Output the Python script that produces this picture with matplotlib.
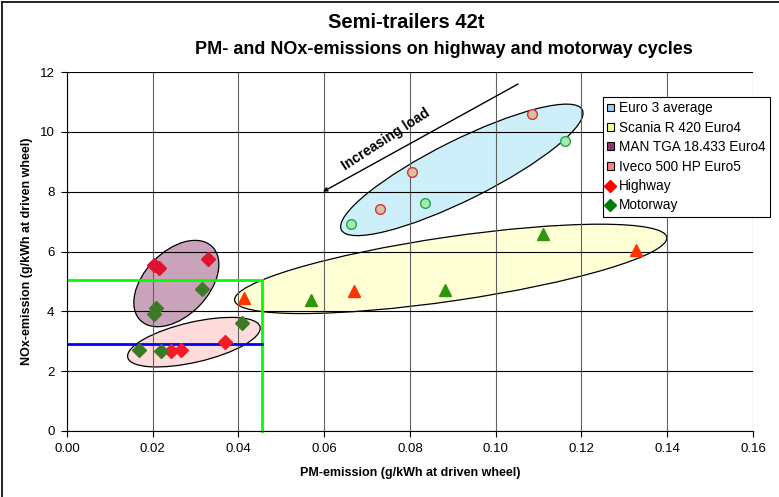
import matplotlib
matplotlib.use("Agg")
import matplotlib.pyplot as plt
from matplotlib.patches import Ellipse, Patch
from matplotlib.lines import Line2D
from matplotlib.transforms import Affine2D

plt.rcParams['font.family'] = ['Liberation Sans', 'DejaVu Sans']

# PM (g/kWh) and NOx (g/kWh) per vehicle and cycle
euro3_hw_pm = [0.0729, 0.0804, 0.1085]
euro3_hw_nox = [7.43, 8.66, 10.59]
euro3_mw_pm = [0.0662, 0.0834, 0.1162]
euro3_mw_nox = [6.92, 7.63, 9.70]

scania_hw_pm = [0.0412, 0.0670, 0.1327]
scania_hw_nox = [4.45, 4.68, 6.06]
scania_mw_pm = [0.0568, 0.0881, 0.1110]
scania_mw_nox = [4.39, 4.72, 6.57]

man_hw_pm = [0.0203, 0.0215, 0.0330]
man_hw_nox = [5.56, 5.46, 5.76]
man_mw_pm = [0.0315, 0.0207, 0.0203]
man_mw_nox = [4.74, 4.10, 3.90]

iveco_hw_pm = [0.0242, 0.0267, 0.0369]
iveco_hw_nox = [2.68, 2.72, 2.98]
iveco_mw_pm = [0.0167, 0.0219, 0.0409]
iveco_mw_nox = [2.72, 2.68, 3.61]

# limit lines
limit_pm = 0.0455
limit_nox_euro4 = 5.05
limit_nox_euro5 = 2.9

group_labels = ["Euro 3 average", "Scania R 420 Euro4",
                "MAN TGA 18.433 Euro4", "Iveco 500 HP Euro5"]
group_colors = ["#99CCFF", "#FFFF99", "#993366", "#FF8080"]
ellipse_fill = ["#CDEFFA", "#FFFFD6", "#C9A3BA", "#FFDCDC"]
# centre (pm, nox), semi axes in NOx units, angle in screen degrees
ellipse_center = [(0.0921, 8.73), (0.0895, 5.42), (0.0255, 4.93), (0.0296, 2.97)]
ellipse_axes = [(4.50, 1.00), (7.30, 1.07), (1.72, 1.07), (2.27, 0.67)]
ellipse_angle = [26.5, 8.3, 46, 13]

XMAX, YMAX = 0.16, 12

fig = plt.figure(figsize=(7.79, 4.97), dpi=100)
ax = fig.add_axes([0.086, 0.1328, 0.8806, 0.7222])
ax.set_xlim(0, XMAX)
ax.set_ylim(0, YMAX)

# scale factor so that ellipses are drawn in screen-isotropic units
bb = ax.get_position()
k = (bb.width * 779 / XMAX) / (bb.height * 497 / YMAX)
tr = Affine2D().scale(1 / k, 1) + ax.transData
for c, (a, b), ang, fc in zip(ellipse_center, ellipse_axes, ellipse_angle, ellipse_fill):
    e = Ellipse((c[0] * k, c[1]), 2 * a, 2 * b, angle=ang, transform=tr,
                facecolor=fc, edgecolor="black", lw=0.9, zorder=0.3)
    ax.add_patch(e)

ax.set_axisbelow(True)
ax.grid(axis="y", color="black", lw=0.8)
ax.grid(axis="x", color="#606060", lw=0.8)
ax.set_xticks([i * 0.02 for i in range(9)])
ax.set_yticks(range(0, 13, 2))
ax.xaxis.set_major_formatter(matplotlib.ticker.FormatStrFormatter("%.2f"))
ax.tick_params(direction="out", length=4, labelsize=9.5, pad=5)
for s in ["top", "right"]:
    ax.spines[s].set_visible(False)

# limit lines
ax.plot([0, limit_pm], [limit_nox_euro4] * 2, color="#00FF00", lw=2, zorder=2)
ax.plot([limit_pm] * 2, [0, limit_nox_euro4], color="#00FF00", lw=2, zorder=2,
        clip_on=False)
ax.plot([0, limit_pm], [limit_nox_euro5] * 2, color="#0000FF", lw=2, zorder=2)

# data points
ax.plot(euro3_hw_pm, euro3_hw_nox, "o", ms=7, mfc="#D8C0A0", mec="#E03030",
        mew=1, zorder=3)
ax.plot(euro3_mw_pm, euro3_mw_nox, "o", ms=7, mfc="#A8E8B8", mec="#20A840",
        mew=1, zorder=3)
ax.plot(scania_hw_pm, scania_hw_nox, "^", ms=9, color="#FF3300", zorder=3)
ax.plot(scania_mw_pm, scania_mw_nox, "^", ms=9, color="#2E960C", zorder=3)
ax.plot(man_hw_pm, man_hw_nox, "D", ms=7, color="#DC1430", zorder=3)
ax.plot(man_mw_pm, man_mw_nox, "D", ms=7, color="#3C7A28", zorder=3)
ax.plot(iveco_hw_pm, iveco_hw_nox, "D", ms=7, color="#F51A25", zorder=3)
ax.plot(iveco_mw_pm, iveco_mw_nox, "D", ms=7, color="#3C7A28", zorder=3)

# increasing load arrow
ax.annotate("", xy=(0.0597, 8.0), xytext=(0.1052, 11.6),
            arrowprops=dict(arrowstyle="-|>", color="black", lw=1,
                            mutation_scale=6, shrinkA=0, shrinkB=0), zorder=4)
ax.text(0.0743, 9.75, "Increasing load", rotation=33, fontsize=10,
        fontweight="bold", ha="center", va="center", zorder=4)

ax.set_xlabel("PM-emission (g/kWh at driven wheel)", fontsize=9,
              fontweight="bold", labelpad=8)
ax.set_ylabel("NOx-emission (g/kWh at driven wheel)", fontsize=9,
              fontweight="bold", labelpad=5)

fig.text(406 / 779, 1 - 22 / 497, "Semi-trailers 42t", fontsize=14.5,
         fontweight="bold", ha="center", va="center")
fig.text(444 / 779, 1 - 49 / 497,
         "PM- and NOx-emissions on highway and motorway cycles", fontsize=13,
         fontweight="bold", ha="center", va="center")

handles = [Patch(facecolor=c, edgecolor="black", lw=0.8) for c in group_colors]
handles += [Line2D([], [], marker="D", ls="", ms=6, color="#FF0000"),
            Line2D([], [], marker="D", ls="", ms=6, color="#008000")]
labels = group_labels + ["Highway", "Motorway"]
leg = ax.legend(handles, labels, loc="upper left", bbox_to_anchor=(0.781, 0.93),
                fontsize=9.8, frameon=True, fancybox=False, edgecolor="black",
                framealpha=1, handlelength=0.5, handleheight=0.5,
                handletextpad=0.4, labelspacing=0.4, borderpad=0.3,
                borderaxespad=0)
leg.get_frame().set_linewidth(0.8)
leg.set_zorder(5)

# chart border
fig.add_artist(Line2D([0.002, 0.002], [0, 0.996], color="black", lw=1.2))
fig.add_artist(Line2D([0.002, 1], [0.996, 0.996], color="black", lw=1.2))

fig.savefig("out.png", dpi=100)
